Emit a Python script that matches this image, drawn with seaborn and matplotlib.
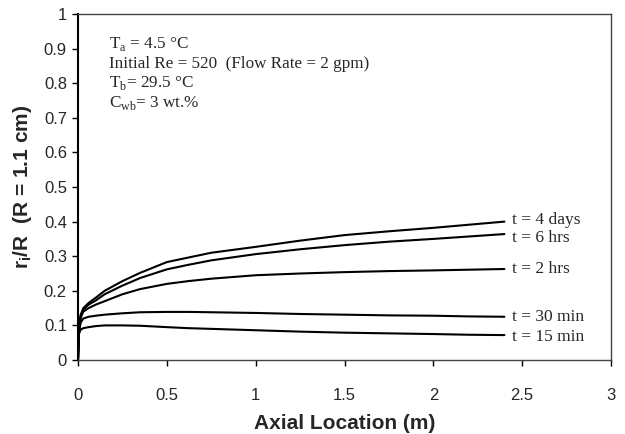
import pandas as pd
import matplotlib
matplotlib.use('Agg')
import matplotlib.pyplot as plt
import seaborn as sns

# axial location (m)
axial = [0.0, 0.005, 0.015, 0.03, 0.06, 0.1, 0.15, 0.25, 0.35, 0.5, 0.62, 0.75,
         1.0, 1.25, 1.5, 1.75, 2.0, 2.2, 2.4]

# r_i / R for each elapsed time
r_4days = [0.0, 0.09, 0.13, 0.15, 0.165, 0.18, 0.20, 0.228, 0.252, 0.283, 0.296, 0.31,
           0.327, 0.345, 0.361, 0.372, 0.382, 0.391, 0.400]
r_6hrs = [0.0, 0.09, 0.128, 0.146, 0.16, 0.172, 0.19, 0.215, 0.237, 0.262, 0.275, 0.288,
          0.306, 0.32, 0.332, 0.342, 0.350, 0.357, 0.364]
r_2hrs = [0.0, 0.085, 0.122, 0.14, 0.15, 0.16, 0.17, 0.19, 0.205, 0.22, 0.228, 0.235,
          0.245, 0.25, 0.254, 0.257, 0.259, 0.261, 0.263]
r_30min = [0.0, 0.08, 0.108, 0.12, 0.125, 0.128, 0.131, 0.135, 0.138, 0.139, 0.139, 0.138,
           0.136, 0.133, 0.131, 0.129, 0.128, 0.126, 0.125]
r_15min = [0.0, 0.075, 0.088, 0.092, 0.095, 0.098, 0.1, 0.1, 0.099, 0.095, 0.092, 0.09,
           0.086, 0.082, 0.079, 0.077, 0.075, 0.073, 0.072]

series_names = ['t = 4 days', 't = 6 hrs', 't = 2 hrs', 't = 30 min', 't = 15 min']
series_vals = [r_4days, r_6hrs, r_2hrs, r_30min, r_15min]
label_offsets = [0.004, -0.01, 0.0, 0.0, -0.006]

x_ticks = [0, 0.5, 1, 1.5, 2, 2.5, 3]
y_ticks = [0, 0.1, 0.2, 0.3, 0.4, 0.5, 0.6, 0.7, 0.8, 0.9, 1]

note_lines = ['T$_\\mathrm{a}$ = 4.5 \u00b0C',
              'Initial Re = 520  (Flow Rate = 2 gpm)',
              'T$_\\mathrm{b}$= 29.5 \u00b0C',
              'C$_\\mathrm{wb}$= 3 wt.%']
note_y = [0.902, 0.844, 0.789, 0.732]

frames = []
for name, vals in zip(series_names, series_vals):
    frames.append(pd.DataFrame({'x': axial, 'y': vals, 'series': name}))
df = pd.concat(frames, ignore_index=True)

sns.set_style('ticks')
plt.rcParams['font.family'] = ['Liberation Sans', 'DejaVu Sans']
plt.rcParams['mathtext.fontset'] = 'custom'
plt.rcParams['mathtext.rm'] = 'Liberation Serif'
plt.rcParams['mathtext.bf'] = 'Liberation Sans:bold'

fig = plt.figure(figsize=(6.25, 4.34), dpi=100)
ax = fig.add_axes([0.1248, 0.1705, 0.8528, 0.7972])

sns.lineplot(data=df, x='x', y='y', units='series', estimator=None,
             color='black', linewidth=1.5, ax=ax, legend=False)

# curve labels at the right end
for name, vals, off in zip(series_names, series_vals, label_offsets):
    ax.text(axial[-1] + 0.045, vals[-1] + off, name, family='Liberation Serif',
            fontsize=12.5, va='center', ha='left')

for line, yy in zip(note_lines, note_y):
    ax.text(0.058, yy, line, transform=ax.transAxes, family='Liberation Serif',
            fontsize=12.3, va='baseline', ha='left')

ax.set_xlim(0, 3)
ax.set_ylim(0, 1)
ax.set_xticks(x_ticks)
ax.set_xticklabels(['0', '0.5', '1', '1.5', '2', '2.5', '3'])
ax.set_yticks(y_ticks)
ax.set_yticklabels(['0', '0.1', '0.2', '0.3', '0.4', '0.5', '0.6', '0.7', '0.8', '0.9', '1'])
ax.tick_params(axis='both', labelsize=12, length=4, width=1, color='black')
ax.tick_params(axis='x', pad=16)
ax.tick_params(axis='y', pad=4)

for s in ax.spines.values():
    s.set_visible(True)
    s.set_color('#444444')
    s.set_linewidth(1.0)
ax.spines['left'].set_color('black')
ax.spines['left'].set_linewidth(1.5)

ax.set_xlabel('Axial Location (m)', fontsize=15, fontweight='bold', labelpad=8)
ax.set_ylabel(r'r$_\mathbf{i}$/R  (R = 1.1 cm)', fontsize=15, fontweight='bold', labelpad=7)

fig.savefig('out.png', dpi=100)
